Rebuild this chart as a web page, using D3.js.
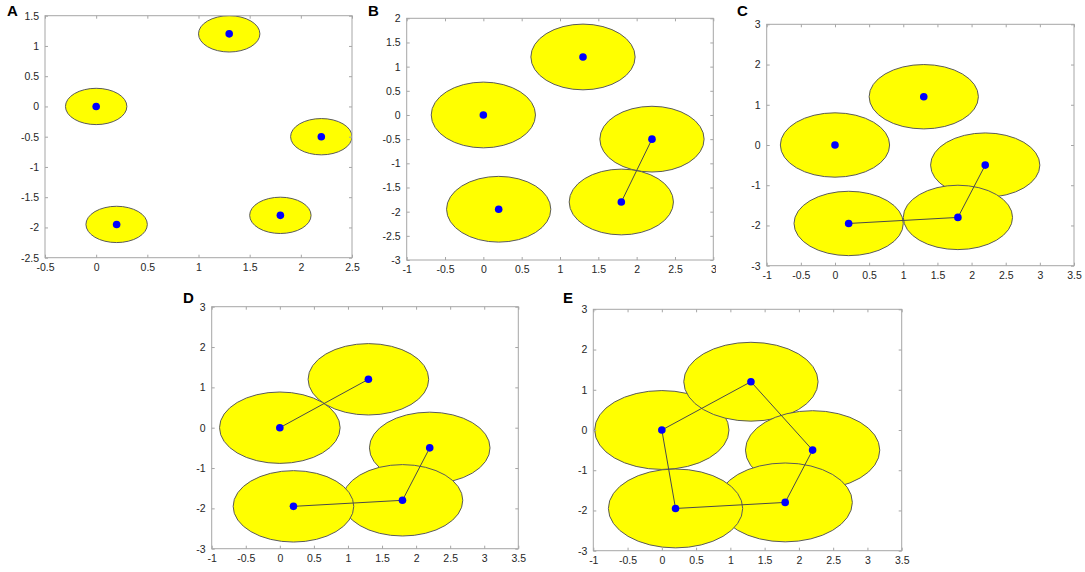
<!DOCTYPE html>
<html>
<head>
<meta charset="utf-8">
<script src="https://cdn.jsdelivr.net/npm/d3@7"></script>
<style>
  html, body { margin: 0; padding: 0; background: #fff; }
  svg { display: block; }
</style>
</head>
<body>
<svg id="chart" width="1085" height="572"></svg>
<script>
// ---------------- DATA ----------------
const panelLabels = ["A", "B", "C", "D", "E"];
const pointX = [0, 1.3, 2.2, 1.8, 0.2];
const pointY = [0, 1.2, -0.5, -1.8, -1.95];
const radii = [0.3, 0.68, 0.8, 0.885, 0.98];
// edges (index pairs into points), in order of appearance
const edgeFrom = [2, 4, 0, 1, 0];
const edgeTo   = [3, 3, 1, 2, 4];
const edgeCount = [0, 1, 2, 3, 5];
const xDomains = [[-0.5, 2.5], [-1, 3], [-1, 3.5], [-1, 3.5], [-1, 3.5]];
const yDomains = [[-2.5, 1.5], [-3, 2], [-3, 3], [-3, 3], [-3, 3]];
const xTicksA = [-0.5, 0, 0.5, 1, 1.5, 2, 2.5];
const xTicksB = [-1, -0.5, 0, 0.5, 1, 1.5, 2, 2.5, 3];
const xTicksCDE = [-1, -0.5, 0, 0.5, 1, 1.5, 2, 2.5, 3, 3.5];
const yTicksA = [-2.5, -2, -1.5, -1, -0.5, 0, 0.5, 1, 1.5];
const yTicksB = [-3, -2.5, -2, -1.5, -1, -0.5, 0, 0.5, 1, 1.5, 2];
const yTicksCDE = [-3, -2, -1, 0, 1, 2, 3];
const xTickSets = [xTicksA, xTicksB, xTicksCDE, xTicksCDE, xTicksCDE];
const yTickSets = [yTicksA, yTicksB, yTicksCDE, yTicksCDE, yTicksCDE];

// ---------------- LAYOUT ----------------
const boxes = [
  {x0: 45,    y0: 15.7,  x1: 352,   y1: 257.7, lx: 7,   ly: 15.5, clipR: 362},
  {x0: 406.7, y0: 18.3,  x1: 713.3, y1: 260,   lx: 368, ly: 15.5, clipR: 716},
  {x0: 766.7, y0: 24.3,  x1: 1074,  y1: 265.7, lx: 737, ly: 15.5, clipR: 1085},
  {x0: 211.7, y0: 306.7, x1: 518.3, y1: 548.7, lx: 183, ly: 303,  clipR: 560},
  {x0: 593.3, y0: 309.3, x1: 901.7, y1: 550.7, lx: 563, ly: 303,  clipR: 1085}
];

const svg = d3.select("#chart");
const defs = svg.append("defs");
const fmt = d => (d === 0 ? "0" : String(d)).replace("-", "-");
const font = "'Liberation Sans', Arial, sans-serif";

boxes.forEach((b, i) => {
  const x = d3.scaleLinear().domain(xDomains[i]).range([b.x0, b.x1]);
  const y = d3.scaleLinear().domain(yDomains[i]).range([b.y1, b.y0]);

  defs.append("clipPath").attr("id", "plot" + i)
    .append("rect").attr("x", b.x0).attr("y", b.y0)
    .attr("width", b.x1 - b.x0).attr("height", b.y1 - b.y0);
  defs.append("clipPath").attr("id", "panel" + i)
    .append("rect").attr("x", 0).attr("y", 0)
    .attr("width", b.clipR).attr("height", 572);

  const g = svg.append("g").attr("clip-path", `url(#panel${i})`);

  // panel letter
  g.append("text").attr("x", b.lx).attr("y", b.ly)
    .attr("font-family", font).attr("font-weight", "bold")
    .attr("font-size", 15).attr("fill", "#000").text(panelLabels[i]);

  // plot area
  const plot = g.append("g").attr("clip-path", `url(#plot${i})`);
  const pts = pointX.map((px, k) => ({x: px, y: pointY[k]}));

  plot.selectAll("ellipse").data(pts).join("ellipse")
    .attr("cx", d => x(d.x)).attr("cy", d => y(d.y))
    .attr("rx", x(radii[i]) - x(0)).attr("ry", y(0) - y(radii[i]))
    .attr("fill", "#ffff00").attr("stroke", "#5a5a5a").attr("stroke-width", 1);

  const edges = d3.range(edgeCount[i]).map(k => [pts[edgeFrom[k]], pts[edgeTo[k]]]);
  plot.selectAll("line.edge").data(edges).join("line").attr("class", "edge")
    .attr("x1", d => x(d[0].x)).attr("y1", d => y(d[0].y))
    .attr("x2", d => x(d[1].x)).attr("y2", d => y(d[1].y))
    .attr("stroke", "#4a4a4a").attr("stroke-width", 1);

  plot.selectAll("circle").data(pts).join("circle")
    .attr("cx", d => x(d.x)).attr("cy", d => y(d.y)).attr("r", 3.8)
    .attr("fill", "#0000ff");

  // axes (MATLAB-like: inward ticks on all sides, box)
  const tl = 3;
  const axisColor = "#a6a6a6";
  const ax = g.append("g");
  ax.append("g").attr("transform", `translate(0,${b.y1})`)
    .call(d3.axisBottom(x).tickValues(xTickSets[i]).tickSize(-tl).tickPadding(6).tickFormat(fmt));
  ax.append("g").attr("transform", `translate(0,${b.y0})`)
    .call(d3.axisTop(x).tickValues(xTickSets[i]).tickSize(-tl).tickFormat(""));
  ax.append("g").attr("transform", `translate(${b.x0},0)`)
    .call(d3.axisLeft(y).tickValues(yTickSets[i]).tickSize(-tl).tickPadding(6).tickFormat(fmt));
  ax.append("g").attr("transform", `translate(${b.x1},0)`)
    .call(d3.axisRight(y).tickValues(yTickSets[i]).tickSize(-tl).tickFormat(""));
  ax.selectAll(".domain").remove();
  ax.selectAll(".tick line").attr("stroke", axisColor);
  ax.selectAll(".tick text").attr("font-family", font).attr("font-size", 10.5).attr("fill", "#262626");
  ax.append("rect").attr("x", b.x0).attr("y", b.y0)
    .attr("width", b.x1 - b.x0).attr("height", b.y1 - b.y0)
    .attr("fill", "none").attr("stroke", axisColor).attr("stroke-width", 1);
});
</script>
</body>
</html>
